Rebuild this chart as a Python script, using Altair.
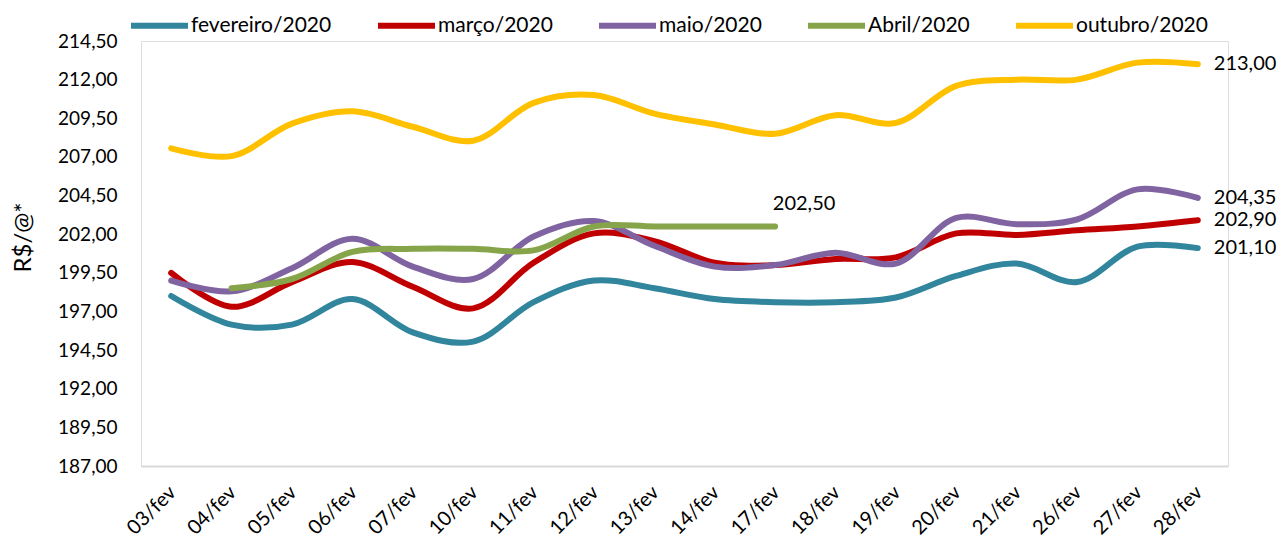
import altair as alt
import pandas as pd

categories = ["03/fev", "04/fev", "05/fev", "06/fev", "07/fev", "10/fev", "11/fev", "12/fev", "13/fev",
              "14/fev", "17/fev", "18/fev", "19/fev", "20/fev", "21/fev", "26/fev", "27/fev", "28/fev"]

series_names = ["fevereiro/2020", "março/2020", "maio/2020", "Abril/2020", "outubro/2020"]
series_colors = ["#31859C", "#C00000", "#8064A2", "#86A44A", "#FFC000"]

fevereiro = [198.0, 196.15, 196.15, 197.8, 195.65, 195.05, 197.6, 199.0, 198.5, 197.8, 197.6, 197.6, 197.9, 199.3, 200.1, 198.9, 201.2, 201.1]
marco = [199.5, 197.3, 198.9, 200.2, 198.6, 197.2, 200.15, 202.05, 201.55, 200.15, 200.0, 200.4, 200.5, 202.05, 201.95, 202.25, 202.5, 202.9]
maio = [199.0, 198.3, 199.8, 201.7, 199.9, 199.1, 201.85, 202.85, 201.25, 199.9, 200.0, 200.8, 200.1, 203.05, 202.65, 202.95, 204.9, 204.35]
abril = [None, 198.5, 199.1, 200.85, 201.05, 201.05, 200.95, 202.5, 202.5, 202.5, 202.5, None, None, None, None, None, None, None]
outubro = [207.55, 207.05, 209.15, 209.95, 208.95, 208.05, 210.5, 211.0, 209.8, 209.1, 208.5, 209.7, 209.2, 211.6, 212.0, 212.0, 213.1, 213.0]

y_ticks = [187.0, 189.5, 192.0, 194.5, 197.0, 199.5, 202.0, 204.5, 207.0, 209.5, 212.0, 214.5]

rows = []
for name, vals in zip(series_names, [fevereiro, marco, maio, abril, outubro]):
    valid = [i for i, v in enumerate(vals) if v is not None]
    last = valid[-1]
    for i, v in enumerate(vals):
        if v is None:
            continue
        rows.append({"dia": categories[i], "serie": name, "valor": v,
                     "ordem": series_names.index(name),
                     "rotulo": f"{v:.2f}".replace(".", ",") if i == last else ""})
df = pd.DataFrame(rows)

FONT = "Lato"

base = alt.Chart(df).encode(
    x=alt.X("dia:N", sort=categories,
            scale=alt.Scale(type="point", padding=0.5),
            axis=alt.Axis(title=None, labelAngle=-45, labelFontSize=20, labelFont=FONT,
                          labelColor="#000000", ticks=False, grid=False, labelOffset=-6,
                          domainColor="#D9D9D9", domainWidth=2, labelPadding=16)),
    y=alt.Y("valor:Q", scale=alt.Scale(domain=[187, 214.5], nice=False, zero=False),
            axis=alt.Axis(title="R$/@*", values=y_ticks, grid=False, ticks=False, domain=False,
                          labelExpr="replace(format(datum.value, '.2f'), '.', ',')",
                          labelFontSize=19, labelFont=FONT, labelColor="#000000", labelPadding=24,
                          titleFont=FONT, titleFontSize=24, titleFontWeight="normal",
                          titleColor="#000000", titlePadding=22, titleY=196)),
)

lines = base.mark_line(interpolate="catmull-rom", strokeWidth=6, strokeCap="round").encode(
    color=alt.Color("serie:N", sort=series_names,
                    scale=alt.Scale(domain=series_names, range=series_colors),
                    legend=alt.Legend(title=None, orient="none", direction="horizontal", columns=5,
                                      legendX=-13, legendY=-47, symbolType="stroke",
                                      symbolSize=3249, symbolStrokeWidth=6, labelOffset=0,
                                      columnPadding=34, labelFont=FONT, labelFontSize=21,
                                      labelColor="#000000")),
    order=alt.Order("ordem:Q"),
    detail="serie:N",
)

end_labels = base.transform_filter(
    (alt.datum.rotulo != "") & (alt.datum.serie != "Abril/2020")
).mark_text(align="left", baseline="middle", dx=16, fontSize=20, font=FONT, color="#000000").encode(
    text="rotulo:N"
)

abril_label = base.transform_filter(
    (alt.datum.rotulo != "") & (alt.datum.serie == "Abril/2020")
).mark_text(align="center", baseline="middle", dx=29, dy=-22, fontSize=20, font=FONT, color="#000000").encode(
    text="rotulo:N"
)

chart = alt.layer(lines, end_labels, abril_label).properties(
    width=1087, height=425,
    autosize=alt.AutoSizeParams(type="none"),
    padding={"left": 133, "top": 33, "right": 52, "bottom": 71},
).configure_view(stroke=None).configure(background="#ffffff")

chart.save("out.html", embed_options={"renderer": "svg", "actions": False})
